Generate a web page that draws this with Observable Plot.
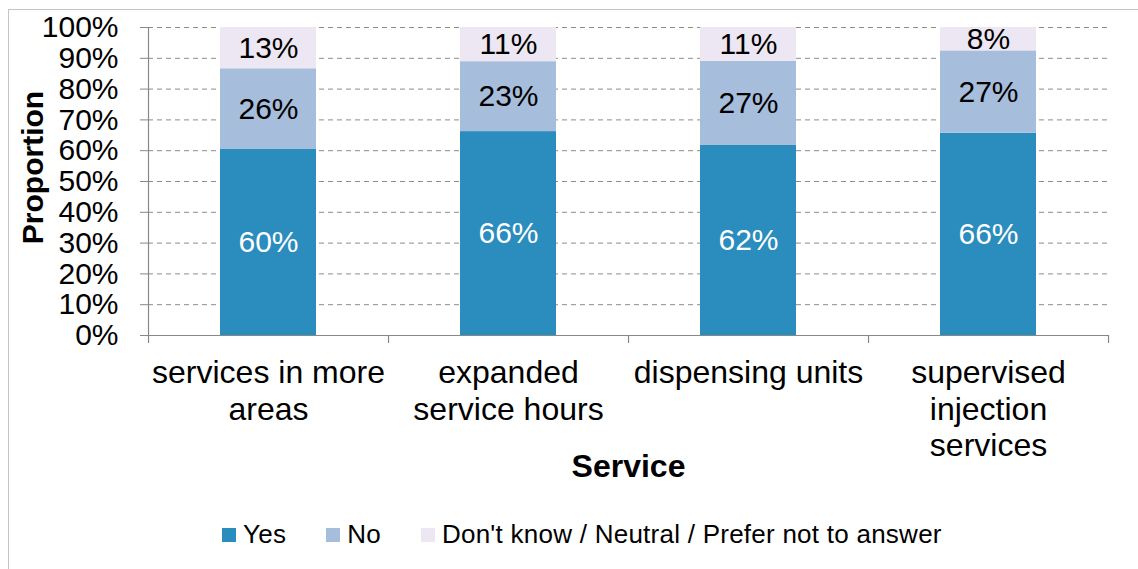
<!DOCTYPE html>
<html>
<head>
<meta charset="utf-8">
<script src="https://cdn.jsdelivr.net/npm/d3@7"></script>
<script src="https://cdn.jsdelivr.net/npm/@observablehq/plot@0.6"></script>
<style>
  html, body { margin: 0; padding: 0; background: #fff; }
  body { width: 1138px; height: 569px; position: relative; overflow: hidden; font-family: "Liberation Sans", Arial, sans-serif; }
  #frame { position: absolute; left: 8px; top: 9px; width: 1200px; height: 600px; border-top: 1.5px solid #c4c4c4; border-left: 1.5px solid #c4c4c4; }
  #chart { position: absolute; left: 0; top: 0; }
  #legend { position: absolute; left: 222px; top: 519px; display: flex; align-items: center; font-size: 26px; letter-spacing: 0.25px; color: #000; }
  .item { display: flex; align-items: center; margin-right: 40px; }
  .sw { width: 14px; height: 14px; margin-right: 7px; }
</style>
</head>
<body>
<div id="frame"></div>
<div id="chart"></div>
<div id="legend"></div>
<script>
const categories = ["services in more areas", "expanded service hours", "dispensing units", "supervised injection services"];
const categoryLabels = ["services in more\nareas", "expanded\nservice hours", "dispensing units", "supervised\ninjection\nservices"];
const responses = ["Yes", "No", "Don't know / Neutral / Prefer not to answer"];
const yesValues = [60.4, 66.2, 61.7, 65.7];
const noValues = [26.2, 22.7, 27.3, 26.7];
const dkValues = [13.4, 11.1, 11.0, 7.6];
const colors = ["#2b8cbe", "#a6bddb", "#ece7f2"];
const labelColors = ["#ffffff", "#000000", "#000000"];
const yTicks = [0, 10, 20, 30, 40, 50, 60, 70, 80, 90, 100];

const series = [yesValues, noValues, dkValues];
const data = [];
categories.forEach((c, i) => {
  responses.forEach((r, j) => {
    data.push({category: c, response: r, value: series[j][i], label: Math.round(series[j][i]) + "%", labelColor: labelColors[j]});
  });
});

const W = 1138, H = 500, ML = 148, MR = 30, MT = 27, MB = 165;
const step = (W - ML - MR) / categories.length;
const font = "'Liberation Sans', Arial, sans-serif";
const labelMap = new Map(categories.map((c, i) => [c, categoryLabels[i]]));

const chart = Plot.plot({
  width: W,
  height: H,
  marginLeft: ML,
  marginRight: MR,
  marginTop: MT,
  marginBottom: MB,
  style: {fontFamily: font, background: "transparent", overflow: "visible"},
  x: {domain: categories, paddingInner: 0.6, paddingOuter: 0.3, axis: null, label: null},
  y: {domain: [0, 100], axis: null, label: null},
  color: {domain: responses, range: colors},
  marks: [
    Plot.gridY(yTicks, {stroke: "#8c8c8c", strokeOpacity: 1, strokeDasharray: "5,4", strokeWidth: 1}),
    Plot.barY(data, {x: "category", y: "value", fill: "response", order: responses}),
    Plot.text(data, Plot.stackY({x: "category", y: "value", z: "response", order: responses, text: "label", fill: "labelColor", fontSize: 30})),
    Plot.axisY(yTicks, {label: null, tickSize: 8, tickPadding: 22, fontSize: 30, stroke: "#888", tickFormat: d => d + "%", color: "#000"}),
    Plot.ruleY([0], {stroke: "#888", strokeWidth: 1.2}),
    Plot.ruleX(categories.slice(0, 1), {x: d => d, dx: -step / 2, stroke: "#888", strokeWidth: 1.2}),
    Plot.axisX(categories, {label: null, tickSize: 8, dx: -step / 2, tickFormat: () => "", stroke: "#888", strokeWidth: 1.2}),
    Plot.axisX(categories.slice(-1), {label: null, tickSize: 8, dx: step / 2, tickFormat: () => "", stroke: "#888", strokeWidth: 1.2}),
    Plot.text(categories, {x: d => d, text: d => labelMap.get(d), frameAnchor: "bottom", lineAnchor: "top", dy: 22, fontSize: 32, lineHeight: 1.14, fill: "#000"}),
    Plot.text(["Service"], {text: d => d, frameAnchor: "bottom", lineAnchor: "middle", dy: 131, fontSize: 32, fontWeight: "bold", fill: "#000"}),
    Plot.text(["Proportion"], {text: d => d, frameAnchor: "left", textAnchor: "middle", rotate: -90, dx: -115, dy: -14, fontSize: 30, fontWeight: "bold", fill: "#000"})
  ]
});
document.getElementById("chart").appendChild(chart);

const legend = document.getElementById("legend");
responses.forEach((r, j) => {
  const item = document.createElement("div");
  item.className = "item";
  const sw = document.createElement("span");
  sw.className = "sw";
  sw.style.background = colors[j];
  const t = document.createElement("span");
  t.textContent = r;
  item.appendChild(sw);
  item.appendChild(t);
  legend.appendChild(item);
});
</script>
</body>
</html>
